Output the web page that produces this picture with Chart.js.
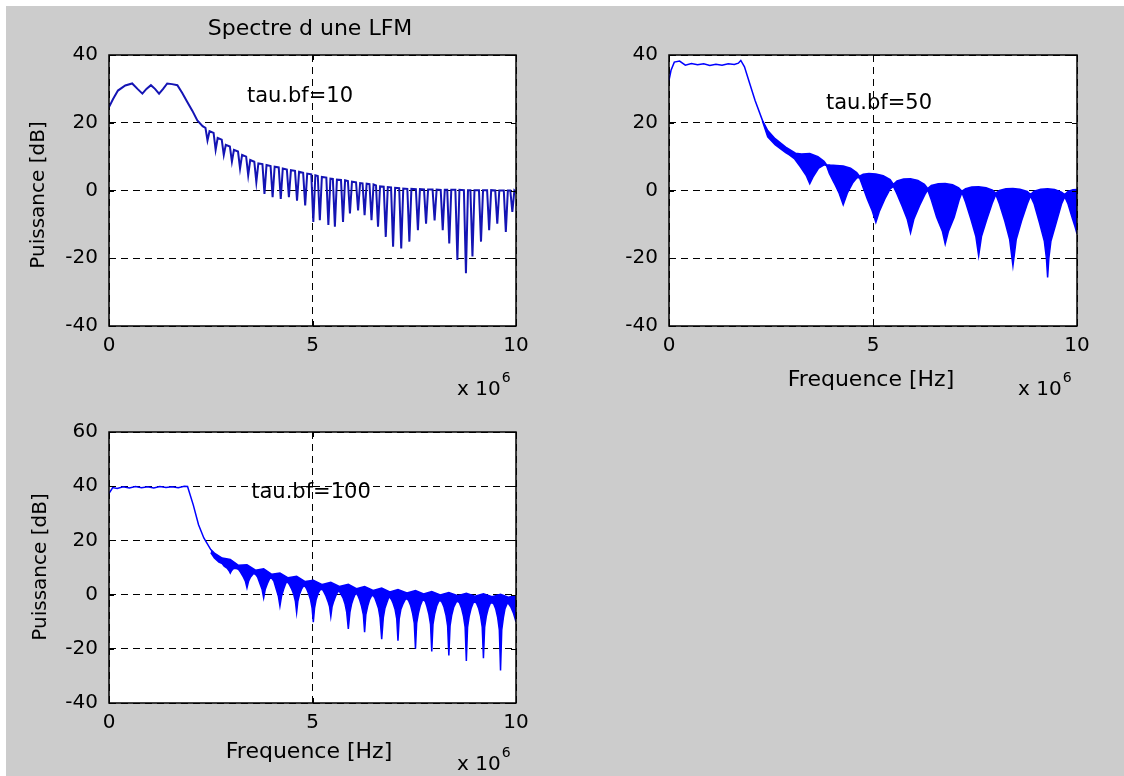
<!DOCTYPE html>
<html>
<head>
<meta charset="utf-8">
<title>Spectre d une LFM</title>
<script src="https://cdn.jsdelivr.net/npm/chart.js@4.4.0/dist/chart.umd.min.js"></script>
<style>
  html, body { margin: 0; padding: 0; background: #fff; }
  #fond { position: absolute; left: 6px; top: 6px; width: 1118px; height: 770px; background: #cccccc; }
  canvas { position: absolute; left: 0; top: 0; }
</style>
</head>
<body>
<div id="fond"></div>
<canvas id="c10" width="1124" height="776"></canvas>
<canvas id="c50" width="1124" height="776"></canvas>
<canvas id="c100" width="1124" height="776"></canvas>
<script>
"use strict";

// graduations (x en unites de 1e6 Hz)
const xTicks = [0, 5, 10];
const yTicksHaut = [-40, -20, 0, 20, 40];
const yTicksBas = [-40, -20, 0, 20, 40, 60];

// tau.bf=10 : une seule courbe [f, dB]
const spectre10 = [
  [0, 24.6], [0.1, 27], [0.22, 29.5], [0.4, 31], [0.57, 31.6], [0.7, 30], [0.82, 28.6], [0.92, 30],
  [1.03, 31.1], [1.13, 30], [1.23, 28.6], [1.33, 30], [1.43, 31.6], [1.55, 31.4], [1.68, 31.1],
  [1.8, 28.8], [1.92, 26.2], [2.05, 23.5], [2.17, 20.7],
  [2.3, 19], [2.37, 18.5], [2.42, 14.8], [2.47, 17.5], [2.57, 17], [2.62, 12], [2.67, 15.5],
  [2.77, 15], [2.82, 10.5], [2.87, 13.5], [2.97, 13], [3.02, 8.5], [3.07, 12], [3.17, 11.5],
  [3.22, 6.5], [3.27, 10.5], [3.37, 10], [3.42, 4.5], [3.47, 9], [3.57, 8.5], [3.62, 2.5],
  [3.67, 8], [3.77, 7.8], [3.82, -1], [3.87, 7.5], [3.97, 7.2], [4.02, -2], [4.07, 7],
  [4.17, 6.8], [4.22, -2.5], [4.27, 6.5], [4.37, 6.2], [4.42, -2], [4.47, 6], [4.57, 5.8],
  [4.62, -3], [4.67, 5.5], [4.77, 5.2], [4.82, -4.4], [4.87, 5], [4.97, 4.8], [5.02, -9.3],
  [5.07, 4.5], [5.13, 4.3], [5.18, -8.8], [5.23, 4], [5.34, 3.8], [5.39, -10.2], [5.44, 3.5],
  [5.5, 3.4], [5.55, -10.7], [5.6, 3.2], [5.7, 3.1], [5.75, -9.3], [5.8, 3], [5.87, 2.8],
  [5.92, -6.8], [5.97, 2.6], [6.07, 2.4], [6.12, -5.9], [6.17, 2.2], [6.23, 2.1], [6.28, -7.3],
  [6.33, 2], [6.4, 1.9], [6.45, -8.8], [6.5, 1.8], [6.56, 1.5], [6.61, -10.7], [6.66, 1.2],
  [6.75, 1.1], [6.8, -13.7], [6.85, 1], [6.93, 0.9], [6.98, -16.6], [7.03, 0.8], [7.13, 0.7],
  [7.18, -17.1], [7.23, 0.6], [7.33, 0.5], [7.38, -15.1], [7.43, 0.5], [7.54, 0.4], [7.59, -11.7],
  [7.64, 0.4], [7.74, 0.3], [7.79, -9.8], [7.84, 0.3], [7.95, 0.3], [8.0, -8.8], [8.05, 0.3],
  [8.15, 0.2], [8.2, -11.7], [8.25, 0.2], [8.31, 0.2], [8.36, -15.6], [8.41, 0.2], [8.51, 0.2],
  [8.56, -20.5], [8.61, 0.2], [8.72, 0.1], [8.77, -24.4], [8.82, 0.1], [8.88, 0.1], [8.93, -19.5],
  [8.98, 0.1], [9.09, 0.1], [9.14, -15.1], [9.19, 0.1], [9.29, 0.1], [9.34, -11.7], [9.39, 0.1],
  [9.49, 0], [9.54, -9.8], [9.59, 0], [9.7, 0], [9.75, -12.2], [9.8, 0], [9.86, 0],
  [9.91, -6.3], [9.96, 0], [10, -0.5]
];

// tau.bf=50 : enveloppe haute et enveloppe basse des lobes
const haut50 = [
  [0, 32.5], [0.05, 35.5], [0.13, 37.9], [0.26, 38.2], [0.4, 37], [0.55, 37.5], [0.7, 37.1],
  [0.85, 37.4], [1.0, 36.9], [1.15, 37.3], [1.3, 37.0], [1.45, 37.4], [1.6, 37.2], [1.7, 37.6],
  [1.76, 38.4], [1.85, 36.5], [1.98, 31.5], [2.11, 26.6], [2.29, 20.7], [2.42, 17.7], [2.6, 15.3],
  [2.86, 12.8], [3.1, 11.0], [3.25, 10.8], [3.45, 10.9], [3.65, 10.0], [3.8, 8.6], [3.86, 7.6],
  [3.95, 7.5], [4.1, 7.4], [4.27, 7.2], [4.45, 6.6], [4.6, 5.3], [4.67, 4.2], [4.76, 4.8],
  [4.9, 5.0], [5.07, 4.9], [5.25, 4.4], [5.42, 3.2], [5.5, 1.8], [5.59, 2.8], [5.75, 3.4],
  [5.92, 3.5], [6.1, 3.0], [6.26, 1.8], [6.34, 0.6], [6.43, 1.5], [6.6, 2.0], [6.77, 2.1],
  [6.95, 1.7], [7.1, 0.8], [7.18, -0.2], [7.27, 0.5], [7.42, 1.0], [7.59, 1.1], [7.77, 0.8],
  [7.93, 0.1], [8.01, -0.8], [8.1, 0.0], [8.26, 0.5], [8.43, 0.6], [8.6, 0.4], [8.78, -0.3],
  [8.86, -1.2], [8.95, -0.2], [9.11, 0.4], [9.28, 0.5], [9.45, 0.3], [9.62, -0.5], [9.7, -1.2],
  [9.78, -0.3], [9.9, 0.2], [10, 0.3]
];
const bas50 = [
  [2.29, 20.5], [2.42, 15.8], [2.6, 13.5], [2.86, 11.2], [2.95, 10.5], [3.08, 9.3], [3.22, 7],
  [3.36, 4.5], [3.45, 2.0], [3.54, 4.2], [3.66, 6.5], [3.8, 7.6], [3.86, 7.4],
  [3.93, 5], [4.05, 2.2], [4.17, -0.8], [4.27, -4.2], [4.37, -0.8], [4.5, 2.2], [4.61, 3.8], [4.67, 3.8],
  [4.74, 1.5], [4.86, -2.5], [4.98, -6], [5.07, -9.4], [5.16, -6], [5.29, -2.5], [5.42, 0.5], [5.5, 1.2],
  [5.58, -0.8], [5.71, -4.5], [5.84, -8.5], [5.92, -12.5], [6.0, -8.5], [6.14, -4.5], [6.27, -1.2], [6.34, 0.2],
  [6.43, -2.8], [6.56, -7.9], [6.7, -12], [6.77, -15.8], [6.85, -12], [6.99, -7.9], [7.11, -2.8], [7.18, -0.6],
  [7.27, -3.5], [7.4, -8.5], [7.52, -13.5], [7.59, -19.3], [7.66, -13.5], [7.79, -8.5], [7.93, -3.5], [8.01, -1.2],
  [8.1, -4], [8.23, -9], [8.35, -14.5], [8.43, -22.2], [8.51, -14.5], [8.64, -9], [8.78, -4], [8.86, -1.6],
  [8.95, -4], [9.08, -9.5], [9.2, -15], [9.25, -20], [9.28, -25.7], [9.31, -20], [9.36, -15], [9.49, -9.5],
  [9.62, -4], [9.7, -1.8], [9.78, -4], [9.88, -8], [9.96, -11], [10, -12.8]
];

// tau.bf=100
const haut100 = [
  [0, 37.4], [0.05, 38.5], [0.09, 39.5], [0.2, 39.2], [0.35, 39.8], [0.5, 39.3], [0.65, 39.9],
  [0.8, 39.4], [0.95, 39.8], [1.1, 39.3], [1.25, 39.9], [1.4, 39.5], [1.55, 39.8], [1.7, 39.4],
  [1.85, 40], [1.93, 39.9], [2.07, 33.1], [2.2, 25.8], [2.33, 20.9], [2.5, 16.6], [2.59, 15.3],
  [2.78, 13.5], [2.98, 13], [3.18, 10.8], [3.39, 11], [3.6, 9.0], [3.8, 9.5], [4.0, 7.5], [4.2, 8],
  [4.4, 6.2], [4.61, 6.8], [4.82, 4.8], [5.02, 5.3], [5.24, 3.7], [5.45, 4.5], [5.66, 3.0], [5.88, 3.8],
  [6.08, 2.2], [6.28, 3.0], [6.49, 1.5], [6.7, 2.4], [6.9, 1.0], [7.1, 1.9], [7.32, 0.6], [7.53, 1.5],
  [7.73, 0.2], [7.93, 1.1], [8.14, -0.1], [8.35, 0.8], [8.57, -0.4], [8.78, 0.5], [8.99, -0.6],
  [9.2, 0.3], [9.41, -0.8], [9.62, 0.1], [9.81, -1.0], [10, -0.3]
];
const bas100 = [
  [2.5, 15.5], [2.59, 13.5], [2.7, 12], [2.78, 11.5],
  [2.83, 10.5], [2.9, 9.8], [2.95, 8.8], [2.98, 7.9], [3.01, 8.8], [3.06, 9.6], [3.13, 9.6], [3.18, 9.3],
  [3.23, 8.3], [3.3, 6.5], [3.35, 5], [3.39, 2.5], [3.43, 5], [3.48, 6.5], [3.55, 7.8], [3.6, 7.5],
  [3.65, 6.5], [3.71, 4], [3.76, 2], [3.8, -1.2], [3.84, 2], [3.89, 4], [3.95, 6], [4.0, 6],
  [4.05, 5], [4.11, 2], [4.16, -0.5], [4.2, -4.2], [4.24, -0.5], [4.29, 2], [4.35, 4.5], [4.4, 4.5],
  [4.44, 3.5], [4.49, 2], [4.54, 0], [4.58, -2.5], [4.61, -6.6], [4.64, -2.5], [4.68, 0], [4.73, 2], [4.78, 3.2], [4.82, 3],
  [4.86, 2], [4.9, 0.5], [4.95, -1.8], [4.99, -5], [5.02, -10.2], [5.05, -5], [5.09, -1.8], [5.14, 0.5], [5.19, 1.8], [5.24, 2],
  [5.28, 1], [5.33, -0.5], [5.38, -2.5], [5.42, -4.5], [5.45, -8], [5.48, -4.5], [5.52, -2.5], [5.57, -0.5], [5.62, 1], [5.66, 1.2],
  [5.7, 0.2], [5.75, -1.2], [5.8, -3.5], [5.84, -6.5], [5.88, -12.7], [5.92, -6.5], [5.96, -3.5], [6.01, -1.2], [6.05, 0.2], [6.08, 0.4],
  [6.12, -0.5], [6.16, -2], [6.2, -4], [6.25, -7.5], [6.28, -13.9], [6.31, -7.5], [6.36, -4], [6.4, -2], [6.45, -0.5], [6.49, -0.3],
  [6.53, -1.2], [6.57, -2.8], [6.62, -5], [6.66, -8.5], [6.7, -16.5], [6.74, -8.5], [6.78, -5], [6.83, -2.8], [6.87, -1.2], [6.9, -1],
  [6.94, -1.8], [6.98, -3.2], [7.03, -5.5], [7.07, -9], [7.1, -17], [7.13, -9], [7.17, -5.5], [7.23, -3.2], [7.28, -1.8], [7.32, -1.5],
  [7.36, -2.2], [7.41, -4], [7.46, -7], [7.5, -10.5], [7.53, -20], [7.56, -10.5], [7.6, -7], [7.65, -4], [7.7, -2.2], [7.73, -2],
  [7.77, -2.5], [7.81, -4.3], [7.86, -7.3], [7.9, -11], [7.93, -21], [7.96, -11], [8.0, -7.3], [8.05, -4.3], [8.1, -2.5], [8.14, -2.2],
  [8.18, -2.8], [8.23, -4.6], [8.28, -7.6], [8.32, -11.5], [8.35, -22.5], [8.38, -11.5], [8.42, -7.6], [8.47, -4.6], [8.53, -2.8], [8.57, -2.5],
  [8.61, -3], [8.66, -4.9], [8.71, -8], [8.75, -12], [8.78, -24.5], [8.81, -12], [8.85, -8], [8.9, -4.9], [8.95, -3], [8.99, -2.7],
  [9.03, -3.2], [9.08, -5], [9.13, -8], [9.17, -12], [9.2, -23.5], [9.23, -12], [9.27, -8], [9.32, -5], [9.37, -3.2], [9.41, -3],
  [9.45, -3.4], [9.5, -5.2], [9.55, -8.5], [9.59, -13], [9.62, -28], [9.65, -13], [9.69, -8.5], [9.73, -5.2], [9.78, -3.4], [9.81, -3.2],
  [9.87, -4.5], [9.94, -7], [10, -10]
];

const BLEU = '#0000ff';
Chart.defaults.font.family = '"DejaVu Sans", sans-serif';
Chart.defaults.color = '#000';

function points(arr) {
  return arr.map(p => ({ x: p[0], y: p[1] }));
}

// fond blanc, cadre, graduations interieures et textes
const cadre = {
  id: 'cadre',
  beforeDraw(chart) {
    const a = chart.chartArea, ctx = chart.ctx;
    ctx.save();
    ctx.fillStyle = '#fff';
    ctx.fillRect(a.left, a.top, a.right - a.left, a.bottom - a.top);
    ctx.restore();
  },
  afterDraw(chart, args, opts) {
    const { ctx, chartArea: a, scales } = chart;
    ctx.save();
    ctx.strokeStyle = '#000';
    ctx.lineWidth = 1.5;
    ctx.strokeRect(a.left, a.top, a.right - a.left, a.bottom - a.top);
    ctx.lineWidth = 1;
    ctx.beginPath();
    scales.x.ticks.forEach(t => {
      const px = Math.round(scales.x.getPixelForValue(t.value)) + 0.5;
      ctx.moveTo(px, a.bottom); ctx.lineTo(px, a.bottom - 5);
      ctx.moveTo(px, a.top); ctx.lineTo(px, a.top + 5);
    });
    scales.y.ticks.forEach(t => {
      const py = Math.round(scales.y.getPixelForValue(t.value)) + 0.5;
      ctx.moveTo(a.left, py); ctx.lineTo(a.left + 5, py);
      ctx.moveTo(a.right, py); ctx.lineTo(a.right - 5, py);
    });
    ctx.stroke();

    ctx.fillStyle = '#000';
    ctx.textAlign = 'center';
    ctx.textBaseline = 'middle';
    (opts.textes || []).forEach(t => {
      ctx.save();
      ctx.font = t.size + 'px "DejaVu Sans"';
      ctx.translate(t.x, t.y);
      if (t.rot) ctx.rotate(-Math.PI / 2);
      ctx.fillText(t.txt, 0, 0);
      ctx.restore();
    });
    // facteur x 10^6
    if (opts.expo) {
      ctx.textAlign = 'left';
      ctx.textBaseline = 'alphabetic';
      ctx.font = '20px "DejaVu Sans"';
      ctx.fillText('x 10', opts.expo.x, opts.expo.y);
      const w = ctx.measureText('x 10').width;
      ctx.font = '14px "DejaVu Sans"';
      ctx.fillText('6', opts.expo.x + w + 1, opts.expo.y - 13);
    }
    ctx.restore();
  }
};

function echelles(yMin, yMax, yTicks) {
  const grille = { color: '#000', lineWidth: 1, drawTicks: false };
  return {
    x: {
      type: 'linear', min: 0, max: 10,
      afterBuildTicks: s => { s.ticks = xTicks.map(v => ({ value: v })); },
      afterFit: s => { s.height = 30; },
      grid: grille,
      border: { display: false, dash: [7, 5] },
      ticks: { padding: 8, font: { size: 20 }, maxRotation: 0 }
    },
    y: {
      type: 'linear', min: yMin, max: yMax,
      afterBuildTicks: s => { s.ticks = yTicks.map(v => ({ value: v })); },
      afterFit: s => { s.width = 50; },
      grid: grille,
      border: { display: false, dash: [7, 5] },
      ticks: { padding: 11, font: { size: 20 } }
    }
  };
}

function trace(id, datasets, yMin, yMax, yTicks, padding, textes, expo) {
  return new Chart(document.getElementById(id), {
    type: 'line',
    data: { datasets: datasets },
    options: {
      responsive: false,
      animation: false,
      events: [],
      layout: { padding: padding },
      elements: { point: { radius: 0 }, line: { tension: 0 } },
      scales: echelles(yMin, yMax, yTicks),
      plugins: {
        legend: { display: false },
        tooltip: { enabled: false },
        cadre: { textes: textes, expo: expo }
      }
    },
    plugins: [cadre]
  });
}

// subplot 1
trace('c10', [
  { data: points(spectre10), borderColor: '#1414b4', borderWidth: 2, fill: false }
], -40, 40, yTicksHaut,
  { left: 59, top: 55, right: 608, bottom: 420 },
  [
    { txt: 'Spectre d une LFM', x: 310, y: 29, size: 22 },
    { txt: 'Puissance [dB]', x: 39, y: 195, size: 20, rot: true },
    { txt: 'tau.bf=10', x: 300, y: 97, size: 21 }
  ],
  { x: 457, y: 395 });

// subplot 2
trace('c50', [
  { data: points(haut50), borderColor: BLEU, borderWidth: 1.5, fill: false },
  { data: points(bas50), borderColor: BLEU, borderWidth: 1.5, backgroundColor: BLEU, fill: '-1' }
], -40, 40, yTicksHaut,
  { left: 619, top: 55, right: 47, bottom: 420 },
  [
    { txt: 'Frequence [Hz]', x: 871, y: 380, size: 22 },
    { txt: 'tau.bf=50', x: 879, y: 104, size: 21 }
  ],
  { x: 1018, y: 395 });

// subplot 3
trace('c100', [
  { data: points(haut100), borderColor: BLEU, borderWidth: 1.5, fill: false },
  { data: points(bas100), borderColor: BLEU, borderWidth: 1.5, backgroundColor: BLEU, fill: '-1' }
], -40, 60, yTicksBas,
  { left: 59, top: 432, right: 608, bottom: 43 },
  [
    { txt: 'Puissance [dB]', x: 41, y: 567, size: 20, rot: true },
    { txt: 'Frequence [Hz]', x: 309, y: 752, size: 22 },
    { txt: 'tau.bf=100', x: 311, y: 493, size: 21 }
  ],
  { x: 457, y: 770 });
</script>
</body>
</html>
